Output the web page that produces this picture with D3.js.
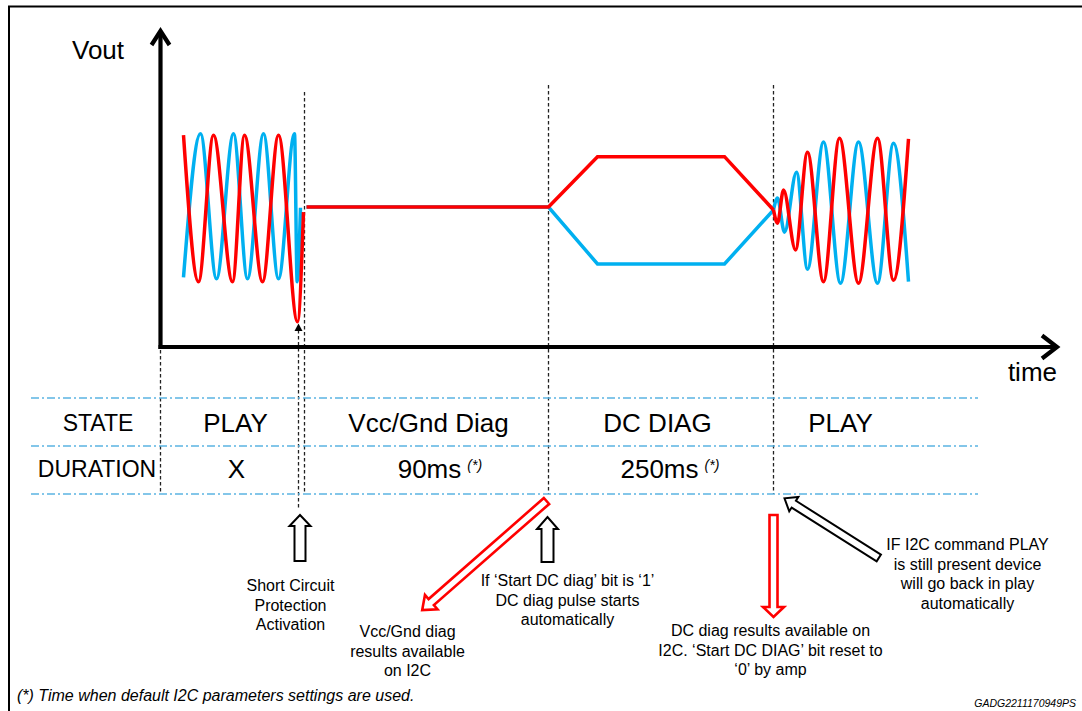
<!DOCTYPE html>
<html><head><meta charset="utf-8">
<script src="https://cdn.jsdelivr.net/npm/d3@7"></script>
<style>
body{margin:0;background:#fff}
svg{display:block}
text{font-family:"Liberation Sans",Arial,Helvetica,sans-serif;fill:#000}
</style>
</head><body>
<svg id="c" width="1082" height="711"></svg>
<script>
// ---------------- DATA (time in arbitrary units from the Vout axis, value in normalised volts) ----------------
// PLAY phase 1 : extrema of the two output waveforms
const play1BlueT = [23, 40, 56, 73, 87, 103, 118, 134, 136.7, 140];
const play1BlueV = [-0.95, 0.99, -0.97, 0.99, -0.97, 0.99, -0.97, 0.99, -1.01, -0.01];
const play1RedT  = [23, 38, 53, 72, 84, 102, 118, 137, 143];
const play1RedV  = [0.97, -1.01, 0.97, -1.01, 0.97, -1.01, 0.97, -1.55, -0.07];
// Vcc/Gnd diag (flat) + DC diag pulse
const diagBlueT = [146, 388, 437, 564, 613];
const diagBlueV = [0, 0, -0.77, -0.77, -0.04];
const diagRedT  = [146, 388, 437, 564, 613];
const diagRedV  = [0, 0, 0.68, 0.68, -0.04];
// PLAY phase 2 : growing waveform
const play2BlueT = [613, 617, 624, 636, 647, 663, 680, 698, 717, 733, 748];
const play2BlueV = [-0.04, 0.12, -0.34, 0.47, -0.84, 0.88, -1.03, 0.88, -1.03, 0.86, -1.01];
const play2RedT  = [613, 617, 623, 635, 647, 663, 679, 698, 717, 733, 748];
const play2RedV  = [-0.04, -0.22, 0.23, -0.58, 0.74, -1.01, 0.93, -1.03, 0.93, -0.99, 0.92];

// phase boundaries (time units)
const boundaryT = [0, 138, 144, 388, 613];

// table
const rowLabels = ["STATE", "DURATION"];
const stateLabels = ["PLAY", "Vcc/Gnd Diag", "DC DIAG", "PLAY"];
const stateCenterT = [75, 268, 497, 680];
const durationLabels = ["X", "90ms", "250ms"];
const durationCenterT = [76, 269, 499];
const durationNote = [false, true, true];

// annotations
const notes = [
  {t: 130, lines: ["Short Circuit", "Protection", "Activation"], y0: 591},
  {t: 247, lines: ["Vcc/Gnd diag", "results available", "on I2C"], y0: 637},
  {t: 407, lines: ["If \u2018Start DC diag\u2019 bit is \u20181\u2019", "DC diag pulse starts", "automatically"], y0: 586},
  {t: 610, lines: ["DC diag results available on", "I2C. \u2018Start DC DIAG\u2019 bit reset to", "\u20180\u2019 by amp"], y0: 636},
  {t: 807, lines: ["IF I2C command PLAY", "is still present device", "will go back in play", "automatically"], y0: 550}
];
const callouts = [
  {tailT: 139.5, tailY: 561, tipT: 139.5, tipY: 515, sw: 11, hw: 21, hl: 11, color: "#000"},
  {tailT: 386, tailY: 501, tipT: 261.7, tipY: 610, sw: 8, hw: 19, hl: 12, color: "#ff0000"},
  {tailT: 387, tailY: 562, tipT: 387, tipY: 517, sw: 12, hw: 21, hl: 12, color: "#000"},
  {tailT: 613, tailY: 515, tipT: 613, tipY: 617, sw: 8, hw: 21, hl: 10, color: "#ff0000"},
  {tailT: 718.3, tailY: 558, tipT: 624, tipY: 498.3, sw: 8, hw: 17, hl: 11, color: "#000"}
];

// ---------------- DRAW ----------------
const svg = d3.select("#c");
const W = 1082, H = 711;
const x = d3.scaleLinear().domain([0, 900]).range([160.5, 1060.5]);
const y = d3.scaleLinear().domain([-1, 1]).range([281, 133]);
const RED = "#ff0000", BLUE = "#00b0f0", TBL = "#5bb4e2";

svg.append("rect").attr("width", W).attr("height", H).attr("fill", "#fff");
// frame
svg.append("path").attr("d", `M9,${H} L9,6.5 L${W},6.5`).attr("fill", "none").attr("stroke", "#000").attr("stroke-width", 2);

const zip = (ts, vs) => ts.map((t, i) => [t, vs[i]]);
const smooth = d3.line().x(d => x(d[0])).y(d => y(d[1])).curve(d3.curveMonotoneX);
const straight = d3.line().x(d => x(d[0])).y(d => y(d[1]));

// vertical dashed boundaries
const bSpans = [[350, 494], [330, 510], [92, 494], [85, 494], [85, 494]];
boundaryT.forEach((t, i) => {
  svg.append("line").attr("x1", x(t)).attr("x2", x(t)).attr("y1", bSpans[i][0]).attr("y2", bSpans[i][1])
    .attr("stroke", "#222").attr("stroke-width", 1.3).attr("stroke-dasharray", "3.5,2.5");
});

// table rules
[398, 446, 494].forEach(yy => {
  svg.append("line").attr("x1", 31).attr("x2", 978).attr("y1", yy).attr("y2", yy)
    .attr("stroke", TBL).attr("stroke-width", 1.5).attr("stroke-dasharray", "8,3,2,3");
});

// waveforms
const wave = (data, color, gen) => svg.append("path").attr("d", gen(data)).attr("fill", "none")
  .attr("stroke", color).attr("stroke-width", 3.5).attr("stroke-linejoin", "miter");
wave(zip(play1BlueT, play1BlueV), BLUE, smooth);
wave(zip(diagBlueT, diagBlueV), BLUE, straight);
wave(zip(play2BlueT, play2BlueV), BLUE, smooth);
wave(zip(play1RedT, play1RedV), RED, smooth);
wave(zip(diagRedT, diagRedV), RED, straight);
wave(zip(play2RedT, play2RedV), RED, smooth);

// small arrowhead pointing at the short circuit
{
  const cx = x(boundaryT[1]);
  svg.append("path").attr("d", `M${cx},323.5 L${cx - 4},331 L${cx + 4},331 Z`).attr("fill", "#000");
}

// axes
const ax0 = x(0), ay0 = 347;
svg.append("line").attr("x1", ax0).attr("x2", ax0).attr("y1", 31).attr("y2", ay0 + 2)
  .attr("stroke", "#000").attr("stroke-width", 4.2);
svg.append("line").attr("x1", ax0 - 2).attr("x2", 1056).attr("y1", ay0).attr("y2", ay0)
  .attr("stroke", "#000").attr("stroke-width", 4.2);
svg.append("path").attr("d", `M${ax0 - 9},45 L${ax0},31 L${ax0 + 9},45`).attr("fill", "none")
  .attr("stroke", "#000").attr("stroke-width", 4.2).attr("stroke-linejoin", "miter");
svg.append("path").attr("d", `M1042,335.5 L1057,${ay0} L1042,358.5`).attr("fill", "none")
  .attr("stroke", "#000").attr("stroke-width", 4.2).attr("stroke-linejoin", "miter");
svg.append("text").attr("x", 72).attr("y", 59).attr("font-size", 26).text("Vout");
svg.append("text").attr("x", 1057).attr("y", 381).attr("font-size", 26).attr("text-anchor", "end").text("time");

// table text
svg.append("text").attr("x", 98).attr("y", 431).attr("font-size", 23).attr("text-anchor", "middle").text(rowLabels[0]);
svg.append("text").attr("x", 97).attr("y", 477).attr("font-size", 23).attr("text-anchor", "middle").text(rowLabels[1]);
stateLabels.forEach((s, i) => {
  svg.append("text").attr("x", x(stateCenterT[i])).attr("y", 432).attr("font-size", 26)
    .attr("text-anchor", "middle").text(s);
});
durationLabels.forEach((s, i) => {
  const t = svg.append("text").attr("x", x(durationCenterT[i])).attr("y", 478).attr("font-size", 26)
    .attr("text-anchor", "middle").text(s);
  if (durationNote[i]) {
    const bw = t.node().getComputedTextLength();
    svg.append("text").attr("x", x(durationCenterT[i]) + bw / 2 + 6).attr("y", 470).attr("font-size", 14)
      .attr("font-style", "italic").text("(*)");
  }
});

// callout arrows
function hollowArrow(tail, tip, sw, hw, hl) {
  const dx = tip[0] - tail[0], dy = tip[1] - tail[1];
  const L = Math.hypot(dx, dy), ux = dx / L, uy = dy / L, nx = -uy, ny = ux;
  const bx = tip[0] - ux * hl, by = tip[1] - uy * hl;
  const p = (px, py, k) => [px + nx * k, py + ny * k];
  return [p(tail[0], tail[1], sw / 2), p(bx, by, sw / 2), p(bx, by, hw / 2), tip,
          p(bx, by, -hw / 2), p(bx, by, -sw / 2), p(tail[0], tail[1], -sw / 2)];
}
callouts.forEach(c => {
  const pts = hollowArrow([x(c.tailT), c.tailY], [x(c.tipT), c.tipY], c.sw, c.hw, c.hl);
  svg.append("path").attr("d", "M" + pts.map(p => p.join(",")).join("L") + "Z")
    .attr("fill", "#fff").attr("stroke", c.color).attr("stroke-width", c.color === "#000" ? 2 : 2.6)
    .attr("stroke-linejoin", "miter");
});

// annotation texts
notes.forEach(n => {
  n.lines.forEach((l, i) => {
    svg.append("text").attr("x", x(n.t)).attr("y", n.y0 + i * 19.5).attr("font-size", 16)
      .attr("text-anchor", "middle").text(l);
  });
});

// footnotes
svg.append("text").attr("x", 17).attr("y", 701).attr("font-size", 16).attr("font-style", "italic")
  .text("(*) Time when default I2C parameters settings are used.");
svg.append("text").attr("x", 1076).attr("y", 707).attr("font-size", 10.5).attr("font-style", "italic")
  .attr("text-anchor", "end").text("GADG2211170949PS");
</script>
</body></html>
